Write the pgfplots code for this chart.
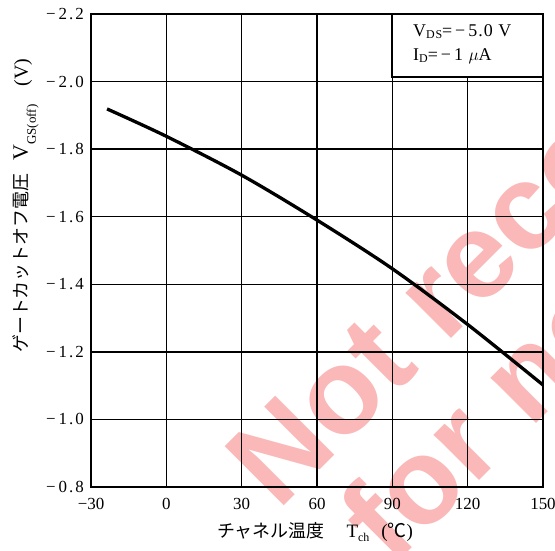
\documentclass[border=0pt]{standalone}
\usepackage{fontspec}
\setmainfont{Liberation Serif}
\newfontfamily\jp{Noto Sans CJK JP}
\newfontfamily\spaced{Liberation Serif}[LetterSpace=12]
\newfontfamily\legfont{Liberation Serif}[LetterSpace=6]
\newfontfamily\wm{Liberation Sans}
\usepackage{pgfplots}
\pgfplotsset{compat=1.18}
\definecolor{wmpink}{RGB}{250,184,184}
\newcommand\sub[3]{\raisebox{-#1}{\fontsize{#2}{#2}\selectfont #3}}

\pgfplotstableread{
x y
-23.6 -1.919
0 -1.838
30 -1.723
60 -1.590
90 -1.446
120 -1.281
150 -1.102
}\datatable

\begin{document}
\begin{tikzpicture}
\useasboundingbox (-91bp,-64bp) rectangle (464bp,487bp);
% watermark
\node[overlay, rotate=45, anchor=base west, inner sep=0, text=wmpink,
  font=\wm\bfseries\fontsize{122}{122}\selectfont] at (187bp,-25bp) {Not recommended};
\node[overlay, rotate=45, anchor=base west, inner sep=0, text=wmpink,
  font=\wm\bfseries\fontsize{122}{122}\selectfont] at (301bp,-81bp) {for new design};
\begin{axis}[
  at={(0,0)}, anchor=south west,
  width=452bp, height=473bp, scale only axis,
  xmin=-30, xmax=150, ymin=-2.2, ymax=-0.8, y dir=reverse,
  xtick={-30,0,30,60,90,120,150},
  xticklabels={−30,0,30,60,90,120,150},
  ytick={-2.2,-2.0,-1.8,-1.6,-1.4,-1.2,-1.0,-0.8},
  yticklabels={−\,2.2,−\,2.0,−\,1.8,−\,1.6,−\,1.4,−\,1.2,−\,1.0,−\,0.8},
  grid=major, major grid style={black, line width=1.5bp},
  axis line style={black, line width=2.6bp},
  major tick length=0pt,
  xticklabel style={anchor=north, inner sep=0pt, yshift=-11bp, font=\fontsize{17}{17}\selectfont},
  yticklabel style={anchor=east, inner sep=0pt, xshift=-7bp, font=\spaced\fontsize{17}{17}\selectfont},
]
\addplot[black, line width=3.3bp, smooth, line cap=butt] table {\datatable};
\draw[fill=white, line width=1.4bp] (axis description cs:0.666,0.867) rectangle (axis description cs:1,1);
\draw[line width=2.6bp, line cap=rect] (axis description cs:0.6,1) -- (axis description cs:1,1) -- (axis description cs:1,0.8);
\end{axis}
% legend text
\node[anchor=base west, inner sep=0, font=\legfont\fontsize{18}{18}\selectfont] at (322bp,450bp) {V\sub{2bp}{12}{DS}=\,−\,5.0 V};
\node[anchor=base west, inner sep=0, font=\legfont\fontsize{18}{18}\selectfont] at (322bp,426bp) {I\sub{2bp}{12}{D}=\,−\,1 $\mu$A};
% x label
\node[anchor=base west, inner sep=0, font=\fontsize{19}{19}\selectfont] at (126bp,-50bp) {{\jp\fontsize{18}{18}\selectfont チャネル温度}\hspace{22bp}T\sub{4bp}{12}{ch}\hspace{12bp}({\jp ℃})};
% y label
\node[rotate=90, anchor=base west, inner sep=0] at (-63bp,134bp) {{\jp\fontsize{18}{18}\selectfont ゲートカットオフ電圧}\hspace{13bp}{\fontsize{22}{22}\selectfont V}\sub{8bp}{13}{GS(off)}\hspace{18bp}{\fontsize{20}{20}\selectfont (V)}};
\end{tikzpicture}
\end{document}
